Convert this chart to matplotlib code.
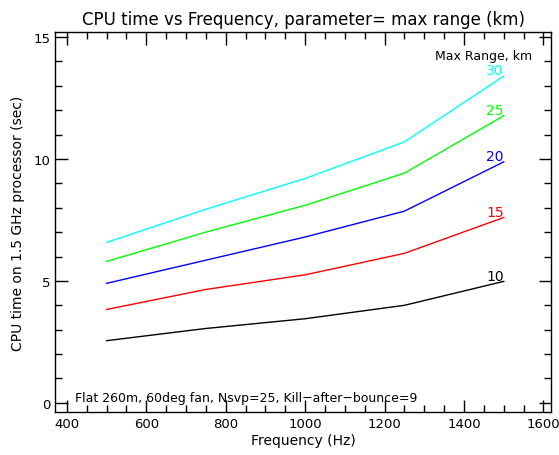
import matplotlib
matplotlib.use("Agg")
import matplotlib.pyplot as plt
from matplotlib.ticker import MultipleLocator

# Data
freq_hz = [500, 750, 1000, 1250, 1500]
max_range_km = ["10", "15", "20", "25", "30"]
cpu_sec = {
    "10": [2.55, 3.05, 3.45, 4.0, 4.98],
    "15": [3.83, 4.65, 5.25, 6.13, 7.6],
    "20": [4.9, 5.85, 6.8, 7.86, 9.88],
    "25": [5.8, 7.0, 8.1, 9.42, 11.77],
    "30": [6.58, 7.94, 9.2, 10.7, 13.4],
}
colors = ["black", "red", "blue", "#00ff00", "cyan"]

fig = plt.figure(figsize=(5.59, 4.56), dpi=100)
ax = fig.add_axes([0.0984, 0.0945, 0.888, 0.833])

for key, col in zip(max_range_km, colors):
    vals = cpu_sec[key]
    ax.plot(freq_hz, vals, color=col, linewidth=1)
    # curve label at the right end of each line
    ax.text(freq_hz[-1], vals[-1] - 0.05, key, color=col, fontsize=10,
            ha="right", va="bottom")

ax.set_xlim(370, 1620)
ax.set_ylim(-0.37, 15.2)
ax.xaxis.set_major_locator(MultipleLocator(200))
ax.xaxis.set_minor_locator(MultipleLocator(50))
ax.yaxis.set_major_locator(MultipleLocator(5))
ax.yaxis.set_minor_locator(MultipleLocator(1))
ax.tick_params(which="both", direction="in", top=True, right=True,
               labelsize=9.5, width=1)
ax.tick_params(which="major", length=9)
ax.tick_params(which="minor", length=5)
for s in ax.spines.values():
    s.set_linewidth(1)

ax.set_title("CPU time vs Frequency, parameter= max range (km)",
             fontsize=12, pad=6)
ax.set_xlabel("Frequency (Hz)", fontsize=10, labelpad=2)
ax.set_ylabel("CPU time on 1.5 GHz processor (sec)", fontsize=10, labelpad=6)

ax.text(0.962, 0.955, "Max Range, km", transform=ax.transAxes,
        fontsize=9, ha="right", va="top")
ax.text(0.04, 0.02, "Flat 260m, 60deg fan, Nsvp=25, Kill\u2212after\u2212bounce=9",
        transform=ax.transAxes, fontsize=9, ha="left", va="bottom")

fig.savefig("out.png", dpi=100)
